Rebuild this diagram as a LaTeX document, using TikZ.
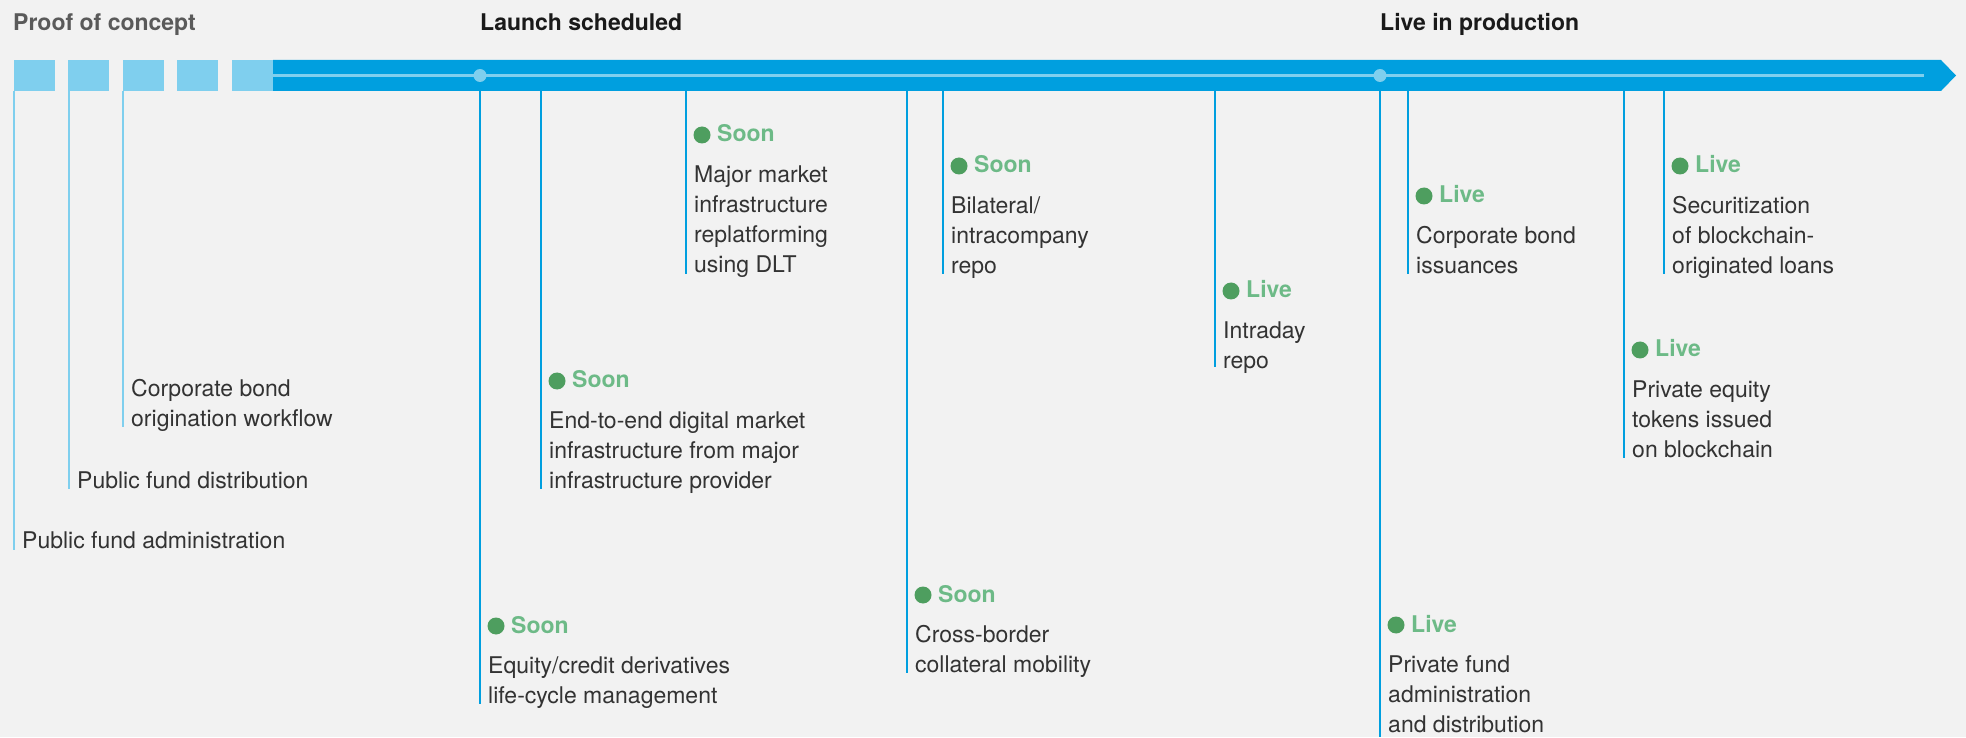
\documentclass[tikz,border=0pt]{standalone}
\usepackage{fontspec}
\setmainfont{TeX Gyre Heros}
\definecolor{Paper}{HTML}{F2F2F2}
\definecolor{Ocean}{HTML}{009FDF}
\definecolor{Sky}{HTML}{7FCFEE}
\definecolor{Ink}{HTML}{333333}
\definecolor{Leaf}{HTML}{4E9E5F}
\definecolor{Mint}{HTML}{6DBA87}
\definecolor{Slate}{HTML}{5A5A5A}
\definecolor{Jet}{HTML}{1A1A1A}
\begin{document}
\begin{tikzpicture}[x=1pt,y=-1pt,
	txt/.style={anchor=north west,inner sep=0pt,align=left,text=Ink,font=\fontsize{23}{30}\selectfont},
	hdr/.style={anchor=base west,inner sep=0pt,font=\fontsize{23}{30}\selectfont\bfseries},
	status/.style={anchor=base west,inner sep=0pt,text=Mint,font=\fontsize{23}{30}\selectfont\bfseries},
	bullet/.style={circle,fill=Leaf,inner sep=0pt,minimum size=17pt},
	hub/.style={circle,fill=Sky,inner sep=0pt,minimum size=13pt},
	sq/.style={fill=Sky,inner sep=0pt,minimum width=41pt,minimum height=31pt},
	pale/.style={draw=Sky,line width=1.4pt},
	stem/.style={draw=Ocean,line width=1.4pt}]
	\fill[Paper] (0,0) rectangle (1966,737);
	\foreach \X [count=\Z] in {14,68,123,177,232}
	{\node[sq] (sq\Z) at (\X+20.5,75.5) {};}
	\fill[Ocean] (273,60) -- (1941,60) -- (1956,75.5) -- (1941,91) -- (273,91) -- cycle;
	\draw[Sky,line width=2.5pt] (273,75.5) -- (1924,75.5);
	\node[hub] (launch) at (480,75.5) {};
	\node[hub] (live) at (1380,75.5) {};
	\node[hdr,text=Slate] (poc) at (13,31) {Proof of concept};
	\node[hdr,text=Jet] (sched) at (480,31) {Launch scheduled};
	\node[hdr,text=Jet] (prod) at (1380,31) {Live in production};
	\foreach \X/\Y/\B/\T [count=\Z] in {14/548/550/{Public fund administration},
		69/488/489/{Public fund distribution},
		123/396/427/{Corporate bond\\origination workflow}}
	{
		\coordinate (pt\Z) at (\X,91);
		\coordinate (pb\Z) at (\X,\B);
		\draw[pale] (pt\Z) -- (pb\Z);
		\node[txt] (p\Z) at (\X+8,\Y-21) {\strut\T};
	}
	\foreach \X/\Y/\B/\S/\T [count=\Z] in {480/673/704/Soon/{Equity/credit derivatives\\life-cycle management},
		541/428/489/Soon/{End-to-end digital market\\infrastructure from major\\infrastructure provider},
		686/182/274/Soon/{Major market\\infrastructure\\replatforming\\using DLT},
		907/642/673/Soon/{Cross-border\\collateral mobility},
		943/213/274/Soon/{Bilateral/\\intracompany\\repo},
		1215/338/367/Live/{Intraday\\repo},
		1380/672/737/Live/{Private fund\\administration\\and distribution},
		1408/243/274/Live/{Corporate bond\\issuances},
		1624/397/458/Live/{Private equity\\tokens issued\\on blockchain},
		1664/213/274/Live/{Securitization\\of blockchain-\\originated loans}}
	{
		\coordinate (mt\Z) at (\X,91);
		\coordinate (mb\Z) at (\X,\B);
		\draw[stem] (mt\Z) -- (mb\Z);
		\node[bullet] (d\Z) at (\X+16,\Y-47) {};
		\node[status] (s\Z) at (\X+31,\Y-40) {\S};
		\node[txt] (m\Z) at (\X+8,\Y-21) {\strut\T};
	}
\end{tikzpicture}
\end{document}
